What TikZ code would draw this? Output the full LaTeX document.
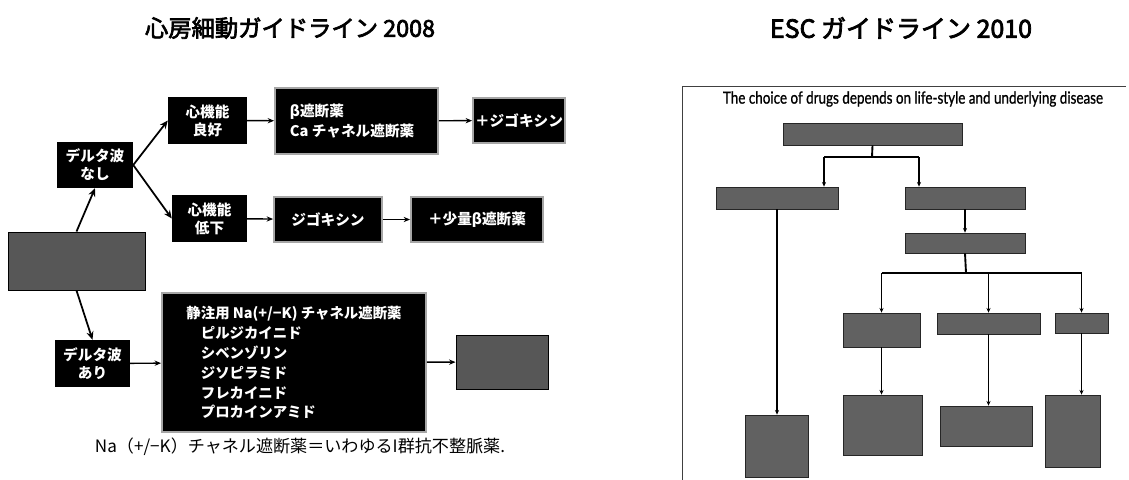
\documentclass[tikz,border=0pt]{standalone}
\usepackage{fontspec}
\setmainfont{Noto Sans CJK JP}
\newfontfamily\titlef[FakeBold=3]{Noto Sans CJK JP}
\newfontfamily\latinf[FakeBold=1]{Lato}
\usetikzlibrary{arrows.meta}
\begin{document}
\begin{tikzpicture}[x=0.03cm,y=-0.03cm,
  sz/.style 2 args={minimum width=#1*0.03cm, minimum height=#2*0.03cm},
  bbox/.style={fill=black, text=white, font=\bfseries\fontsize{12.5}{15.5}\selectfont, align=center, inner sep=0pt},
  fbox/.style={bbox, draw=black!35, line width=1.6pt},
  gbox/.style={fill=black!66, draw=black, line width=0.8pt, inner sep=0pt},
  ebox/.style={fill=black!62, draw=black!85, line width=0.6pt, inner sep=0pt},
  bigarr/.style={line width=1.5pt, -{Stealth[length=7pt,width=6pt]}},
  smarr/.style={line width=1.2pt, -{Stealth[length=5.5pt,width=4.5pt]}},
  tarr/.style={line width=1.6pt, -{Stealth[length=4pt,width=3.5pt]}},
  tline/.style={line width=1.6pt},
]
\useasboundingbox (0,0) rectangle (1129,479);
\fill[white] (0,0) rectangle (1129,479);

% titles
\node (t1) at (290,28) {\resizebox{8.7cm}{!}{\titlef 心房細動ガイドライン 2008}};
\node (t2) at (901,28) {\resizebox{7.86cm}{!}{\titlef ESC ガイドライン 2010}};

% left diagram
\node[gbox, sz={137}{58}] (start) at (76.5,261) {};
\node[bbox, sz={76}{46}] (nashi) at (95,165) {デルタ波\\なし};
\node[bbox, sz={79}{47}] (ryoko) at (207.5,120.5) {心機能\\良好};
\node[bbox, sz={75}{47}] (teika) at (209.5,218.5) {心機能\\低下};
\node[fbox, sz={163}{66}, align=left, font=\bfseries\fontsize{12.5}{17.5}\selectfont] (beta) at (356.5,121) {β遮断薬\\Ca チャネル遮断薬\hspace*{0.6em}};
\node[fbox, sz={92}{45}] (pdig) at (519,120.5) {＋ジゴキシン};
\node[fbox, sz={108}{45}] (dig) at (328,219.5) {ジゴキシン};
\node[fbox, sz={132}{45}] (pbeta) at (477,219.5) {＋少量β遮断薬};
\node[bbox, sz={75}{47}] (ari) at (92.5,363.5) {デルタ波\\あり};
\node[fbox, sz={264}{139}, align=left, font=\bfseries\fontsize{12.3}{17}\selectfont] (na) at (294,362.5)
  {静注用 Na(+/−K) チャネル遮断薬\\\hspace*{1em}ピルジカイニド\\\hspace*{1em}シベンゾリン\\\hspace*{1em}ジソピラミド\\\hspace*{1em}フレカイニド\\\hspace*{1em}プロカインアミド};
\node[gbox, sz={92}{54}] (gr) at (502,362) {};
\node (cap) at (300,447) {\resizebox{12.3cm}{!}{Na（+/−K）チャネル遮断薬＝いわゆるI群抗不整脈薬.}};

\draw[bigarr] (start.north) -- (nashi.south);
\draw[bigarr] (start.south) -- (ari.north);
\draw[bigarr] (nashi.east) -- (ryoko.west);
\draw[bigarr] (nashi.east) -- (teika.west);
\draw[smarr] (ryoko) -- (beta);
\draw[smarr] (beta) -- (pdig);
\draw[smarr] (teika) -- (dig);
\draw[smarr] (dig) -- (pbeta);
\draw[smarr] (ari) -- (na);
\draw[smarr] (na) -- (gr);

% right diagram (ESC)
\draw[line width=0.8pt, black!75] (682,485) -- (682,86) -- (1126,86);
\node (esccap) at (913,99) {\resizebox{11.4cm}{0.37cm}{\latinf The choice of drugs depends on life-style and underlying disease}};

\node[ebox, sz={179}{22}] (af) at (872.5,134) {};
\node[ebox, sz={122}{22}] (L1) at (777,198) {};
\node[ebox, sz={120}{22}] (R1) at (965,198) {};
\node[ebox, sz={120}{20}] (R2) at (965,243) {};
\node[ebox, sz={77}{34}] (A) at (881.5,330) {};
\node[ebox, sz={103}{21}] (B) at (988.5,323.5) {};
\node[ebox, sz={53}{20}] (C) at (1081.5,323) {};
\node[ebox, sz={79}{60}] (A2) at (882.5,425) {};
\node[ebox, sz={92}{40}] (B2) at (986,426) {};
\node[ebox, sz={55}{72}] (C2) at (1072.5,431) {};
\node[ebox, sz={63}{62}] (L2) at (776.5,446) {};

\coordinate (j1) at (872,157);
\coordinate (jl) at (824,157);
\coordinate (jr) at (919,157);
\draw[tline] (af.south) -- (j1);
\draw[tline] (jl) -- (jr);
\draw[tarr] (jl) -- (jl |- L1.north);
\draw[tarr] (jr) -- (jr |- R1.north);
\draw[tarr] (R1) -- (R2);
\coordinate (j2) at (966,273);
\draw[tline] (R2.south) -- (j2);
\draw[tline] (A.north |- j2) -- (C.north |- j2);
\draw[tarr] (A.north |- j2) -- (A.north);
\draw[tarr] (B.north |- j2) -- (B.north);
\draw[tarr] (C.north |- j2) -- (C.north);
\draw[tarr] (A.south) -- (A.south |- A2.north);
\draw[tarr] (B.south) -- (B.south |- B2.north);
\draw[tarr] (C.south) -- (C.south |- C2.north);
\draw[tarr] (L1.south) -- (L1.south |- L2.north);
\end{tikzpicture}
\end{document}
